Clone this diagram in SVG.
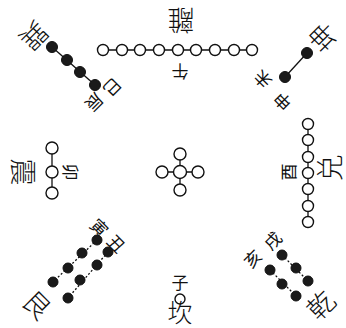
<svg xmlns="http://www.w3.org/2000/svg" width="346" height="328" viewBox="0 0 346 328">
<style>
.w{fill:#fff;stroke:#111;stroke-width:1.4}
.b{fill:#1a1a1a;stroke:#111;stroke-width:1}
.l{stroke:#111;stroke-width:1.3;fill:none}
.d{stroke:#111;stroke-width:1.3;fill:none;stroke-dasharray:2 2}
.t{font-family:"Noto Sans CJK SC","Noto Sans CJK TC",serif;font-size:27px;font-weight:300;fill:#111;text-anchor:middle;dominant-baseline:central}
.s{font-family:"Noto Sans CJK SC","Noto Sans CJK TC",serif;font-size:17px;fill:#111;text-anchor:middle;dominant-baseline:central}
</style>
<rect width="346" height="328" fill="#fff"/>
<g id="connectors">
<line class="l" x1="103" y1="50" x2="252" y2="50"/>
<line class="l" x1="52" y1="47" x2="95" y2="85"/>
<line class="l" x1="307" y1="53" x2="285" y2="77"/>
<line class="l" x1="52" y1="148" x2="52" y2="193"/>
<line class="l" x1="308" y1="124" x2="308" y2="222"/>
<line class="l" x1="180" y1="153" x2="180" y2="189"/>
<line class="l" x1="163" y1="172" x2="198" y2="172"/>
<line class="d" x1="97" y1="240" x2="53" y2="282"/>
<line class="d" x1="108" y1="252" x2="68" y2="298"/>
<line class="d" x1="282" y1="255" x2="308" y2="281"/>
<line class="d" x1="270" y1="270" x2="296" y2="296"/>
</g>
<g id="li">
<text class="t" x="181" y="21" transform="rotate(180 181 21)">離</text>
<text class="s" x="180" y="72" transform="rotate(180 180 72)">午</text>
<circle class="w" cx="103" cy="50" r="5.5"/><circle class="w" cx="122" cy="50" r="5.5"/><circle class="w" cx="140" cy="50" r="5.5"/><circle class="w" cx="159" cy="50" r="5.5"/><circle class="w" cx="178" cy="50" r="5.5"/><circle class="w" cx="196" cy="50" r="5.5"/><circle class="w" cx="215" cy="50" r="5.5"/><circle class="w" cx="234" cy="50" r="5.5"/><circle class="w" cx="252" cy="50" r="5.5"/>
</g>
<g id="xun">
<text class="t" x="35" y="37" transform="rotate(135 35 37)">巽</text>
<text class="s" x="113" y="88" transform="rotate(135 113 88)">巳</text>
<text class="s" x="95" y="103" transform="rotate(135 95 103)">辰</text>
<circle class="b" cx="52" cy="47" r="5.5"/><circle class="b" cx="67" cy="60" r="5.5"/><circle class="b" cx="80" cy="72" r="5.5"/><circle class="b" cx="95" cy="85" r="5.5"/>
</g>
<g id="kun">
<text class="t" x="322" y="38" transform="rotate(-135 322 38)">坤</text>
<text class="s" x="262" y="80" transform="rotate(-135 262 80)">未</text>
<text class="s" x="282" y="102" transform="rotate(-135 282 102)">申</text>
<circle class="b" cx="307" cy="53" r="5.5"/><circle class="b" cx="285" cy="77" r="5.5"/>
</g>
<g id="zhen">
<text class="t" x="24" y="172" transform="rotate(90 24 172)">震</text>
<text class="s" x="71" y="172" transform="rotate(90 71 172)">卯</text>
<circle class="w" cx="52" cy="148" r="6"/><circle class="w" cx="52" cy="172" r="6"/><circle class="w" cx="52" cy="193" r="6"/>
</g>
<g id="center">
<circle class="w" cx="180" cy="172" r="6.5"/><circle class="w" cx="180" cy="154" r="6"/><circle class="w" cx="162" cy="172" r="6"/><circle class="w" cx="198" cy="172" r="6"/><circle class="w" cx="180" cy="190" r="6"/>
</g>
<g id="dui">
<text class="t" x="328" y="168" transform="rotate(-90 328 168)">兑</text>
<text class="s" x="287" y="172" transform="rotate(-90 287 172)">酉</text>
<circle class="w" cx="308" cy="124" r="5.5"/><circle class="w" cx="308" cy="140" r="5.5"/><circle class="w" cx="308" cy="157" r="5.5"/><circle class="w" cx="308" cy="173" r="5.5"/><circle class="w" cx="308" cy="189" r="5.5"/><circle class="w" cx="308" cy="206" r="5.5"/><circle class="w" cx="308" cy="222" r="5.5"/>
</g>
<g id="gen">
<text class="t" x="38" y="304" transform="rotate(45 38 304)">艮</text>
<text class="s" x="100" y="227" transform="rotate(45 100 227)">寅</text>
<text class="s" x="117" y="243" transform="rotate(45 117 243)">丑</text>
<circle class="b" cx="97" cy="240" r="5"/><circle class="b" cx="82" cy="253" r="5"/><circle class="b" cx="68" cy="268" r="5"/><circle class="b" cx="53" cy="282" r="5"/>
<circle class="b" cx="108" cy="252" r="5"/><circle class="b" cx="97" cy="265" r="5"/><circle class="b" cx="80" cy="280" r="5"/><circle class="b" cx="68" cy="298" r="5"/>
</g>
<g id="kan">
<text class="s" x="180" y="281">子</text>
<circle class="w" cx="180" cy="299" r="5"/>
<text class="t" x="180" y="311" style="font-size:25px">坎</text>
</g>
<g id="qian">
<text class="t" x="320" y="304" transform="rotate(-45 320 304)">乾</text>
<text class="s" x="272" y="240" transform="rotate(-45 272 240)">戌</text>
<text class="s" x="252" y="258" transform="rotate(-45 252 258)">亥</text>
<circle class="b" cx="282" cy="255" r="5"/><circle class="b" cx="296" cy="268" r="5"/><circle class="b" cx="308" cy="281" r="5"/>
<circle class="b" cx="270" cy="270" r="5"/><circle class="b" cx="282" cy="284" r="5"/><circle class="b" cx="296" cy="296" r="5"/>
</g>
</svg>
